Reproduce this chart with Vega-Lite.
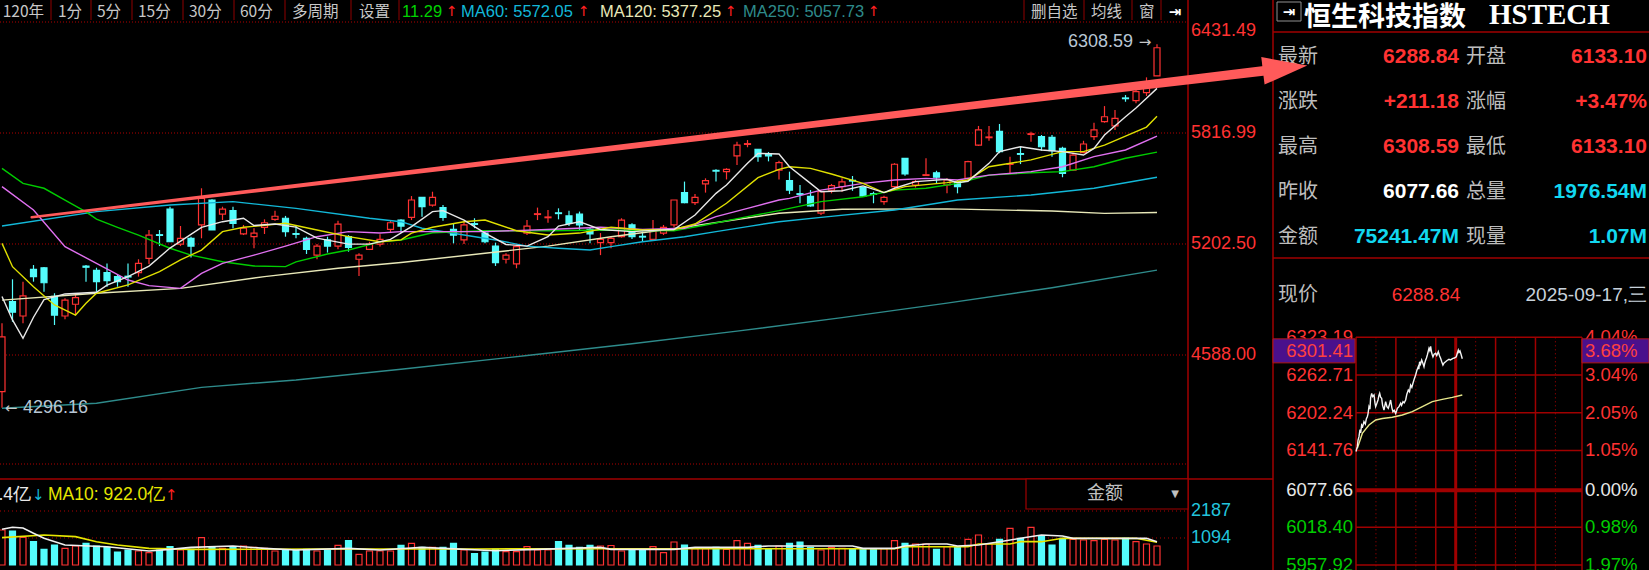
{
"$schema": "https://vega.github.io/schema/vega-lite/v6.json",
"width": 1649, "height": 570, "padding": 0, "autosize": {"type": "none"},
"background": "#000000",
"config": {"view": {"stroke": null}, "axis": {"disable": true}, "legend": {"disable": true}},
"datasets": {
"k": [
{"i":0,"o":4385,"h":4764,"l":4296.16,"c":4688,"v":1418},
{"i":1,"o":4883,"h":5007,"l":4772,"c":4825,"v":1377},
{"i":2,"o":4804,"h":4994,"l":4764,"c":4915,"v":1122},
{"i":3,"o":5062,"h":5086,"l":4994,"c":5022,"v":944},
{"i":4,"o":5071,"h":5075,"l":4938,"c":4988,"v":636},
{"i":5,"o":4913,"h":4930,"l":4754,"c":4809,"v":810},
{"i":6,"o":4804,"h":4902,"l":4786,"c":4892,"v":676},
{"i":7,"o":4869,"h":4926,"l":4809,"c":4906,"v":770},
{"i":8,"o":5080,"h":5086,"l":4994,"c":5074,"v":878},
{"i":9,"o":5056,"h":5071,"l":4938,"c":4994,"v":770},
{"i":10,"o":5044,"h":5095,"l":4966,"c":5000,"v":716},
{"i":11,"o":5022,"h":5031,"l":4966,"c":4994,"v":527},
{"i":12,"o":5024,"h":5095,"l":4966,"c":5020,"v":608},
{"i":13,"o":5044,"h":5118,"l":5022,"c":5095,"v":567},
{"i":14,"o":5123,"h":5280,"l":5092,"c":5252,"v":499},
{"i":15,"o":5254,"h":5280,"l":5191,"c":5250,"v":608},
{"i":16,"o":5396,"h":5409,"l":5215,"c":5215,"v":743},
{"i":17,"o":5202,"h":5302,"l":5191,"c":5234,"v":608},
{"i":18,"o":5234,"h":5243,"l":5128,"c":5191,"v":634},
{"i":19,"o":5308,"h":5511,"l":5234,"c":5455,"v":1107},
{"i":20,"o":5446,"h":5450,"l":5280,"c":5280,"v":716},
{"i":21,"o":5368,"h":5409,"l":5335,"c":5396,"v":676},
{"i":22,"o":5387,"h":5409,"l":5290,"c":5317,"v":716},
{"i":23,"o":5258,"h":5308,"l":5252,"c":5290,"v":770},
{"i":24,"o":5243,"h":5290,"l":5179,"c":5263,"v":716},
{"i":25,"o":5295,"h":5339,"l":5258,"c":5320,"v":676},
{"i":26,"o":5339,"h":5387,"l":5331,"c":5356,"v":567},
{"i":27,"o":5345,"h":5358,"l":5243,"c":5271,"v":608},
{"i":28,"o":5260,"h":5308,"l":5234,"c":5256,"v":608},
{"i":29,"o":5234,"h":5243,"l":5147,"c":5173,"v":634},
{"i":30,"o":5141,"h":5202,"l":5118,"c":5191,"v":567},
{"i":31,"o":5225,"h":5243,"l":5155,"c":5191,"v":608},
{"i":32,"o":5191,"h":5331,"l":5173,"c":5313,"v":797},
{"i":33,"o":5243,"h":5252,"l":5160,"c":5184,"v":985},
{"i":34,"o":5118,"h":5151,"l":5026,"c":5141,"v":432},
{"i":35,"o":5173,"h":5215,"l":5169,"c":5202,"v":567},
{"i":36,"o":5202,"h":5256,"l":5188,"c":5228,"v":567},
{"i":37,"o":5283,"h":5335,"l":5263,"c":5320,"v":567},
{"i":38,"o":5335,"h":5340,"l":5265,"c":5302,"v":797},
{"i":39,"o":5350,"h":5468,"l":5335,"c":5446,"v":878},
{"i":40,"o":5461,"h":5461,"l":5354,"c":5409,"v":716},
{"i":41,"o":5418,"h":5492,"l":5409,"c":5461,"v":716},
{"i":42,"o":5404,"h":5418,"l":5331,"c":5350,"v":716},
{"i":43,"o":5283,"h":5317,"l":5206,"c":5252,"v":878},
{"i":44,"o":5225,"h":5326,"l":5202,"c":5308,"v":608},
{"i":45,"o":5315,"h":5345,"l":5290,"c":5311,"v":459},
{"i":46,"o":5263,"h":5271,"l":5206,"c":5215,"v":527},
{"i":47,"o":5191,"h":5210,"l":5081,"c":5099,"v":634},
{"i":48,"o":5118,"h":5151,"l":5095,"c":5141,"v":540},
{"i":49,"o":5092,"h":5197,"l":5068,"c":5188,"v":540},
{"i":50,"o":5262,"h":5335,"l":5252,"c":5302,"v":743},
{"i":51,"o":5366,"h":5404,"l":5335,"c":5370,"v":608},
{"i":52,"o":5348,"h":5391,"l":5320,"c":5352,"v":608},
{"i":53,"o":5375,"h":5400,"l":5339,"c":5371,"v":944},
{"i":54,"o":5358,"h":5387,"l":5302,"c":5317,"v":797},
{"i":55,"o":5368,"h":5382,"l":5280,"c":5308,"v":716},
{"i":56,"o":5283,"h":5295,"l":5206,"c":5258,"v":797},
{"i":57,"o":5210,"h":5263,"l":5141,"c":5228,"v":770},
{"i":58,"o":5210,"h":5243,"l":5179,"c":5234,"v":790},
{"i":59,"o":5243,"h":5345,"l":5238,"c":5335,"v":567},
{"i":60,"o":5308,"h":5317,"l":5230,"c":5243,"v":661},
{"i":61,"o":5245,"h":5271,"l":5215,"c":5241,"v":608},
{"i":62,"o":5228,"h":5335,"l":5225,"c":5276,"v":743},
{"i":63,"o":5263,"h":5308,"l":5252,"c":5295,"v":499},
{"i":64,"o":5308,"h":5446,"l":5295,"c":5446,"v":931},
{"i":65,"o":5487,"h":5548,"l":5428,"c":5431,"v":810},
{"i":66,"o":5431,"h":5479,"l":5418,"c":5461,"v":661},
{"i":67,"o":5535,"h":5566,"l":5487,"c":5553,"v":661},
{"i":68,"o":5610,"h":5616,"l":5548,"c":5606,"v":716},
{"i":69,"o":5603,"h":5622,"l":5560,"c":5616,"v":634},
{"i":70,"o":5690,"h":5769,"l":5640,"c":5750,"v":985},
{"i":71,"o":5754,"h":5778,"l":5738,"c":5758,"v":878},
{"i":72,"o":5727,"h":5727,"l":5658,"c":5686,"v":797},
{"i":73,"o":5700,"h":5712,"l":5660,"c":5690,"v":634},
{"i":74,"o":5612,"h":5664,"l":5560,"c":5653,"v":770},
{"i":75,"o":5553,"h":5603,"l":5479,"c":5501,"v":878},
{"i":76,"o":5481,"h":5529,"l":5428,"c":5477,"v":931},
{"i":77,"o":5466,"h":5501,"l":5409,"c":5414,"v":716},
{"i":78,"o":5373,"h":5501,"l":5363,"c":5492,"v":608},
{"i":79,"o":5501,"h":5535,"l":5483,"c":5526,"v":716},
{"i":80,"o":5520,"h":5566,"l":5492,"c":5546,"v":676},
{"i":81,"o":5555,"h":5579,"l":5497,"c":5551,"v":661},
{"i":82,"o":5516,"h":5520,"l":5466,"c":5468,"v":661},
{"i":83,"o":5481,"h":5492,"l":5428,"c":5477,"v":634},
{"i":84,"o":5437,"h":5469,"l":5420,"c":5461,"v":661},
{"i":85,"o":5520,"h":5650,"l":5510,"c":5644,"v":985},
{"i":86,"o":5677,"h":5677,"l":5580,"c":5590,"v":878},
{"i":87,"o":5529,"h":5557,"l":5515,"c":5548,"v":851},
{"i":88,"o":5582,"h":5677,"l":5579,"c":5586,"v":851},
{"i":89,"o":5597,"h":5608,"l":5538,"c":5572,"v":634},
{"i":90,"o":5529,"h":5566,"l":5483,"c":5557,"v":743},
{"i":91,"o":5548,"h":5557,"l":5483,"c":5520,"v":716},
{"i":92,"o":5566,"h":5664,"l":5553,"c":5658,"v":1039},
{"i":93,"o":5750,"h":5856,"l":5745,"c":5834,"v":1215},
{"i":94,"o":5791,"h":5856,"l":5774,"c":5795,"v":851},
{"i":95,"o":5826,"h":5867,"l":5705,"c":5714,"v":1039},
{"i":96,"o":5643,"h":5686,"l":5590,"c":5647,"v":1485},
{"i":97,"o":5703,"h":5741,"l":5645,"c":5699,"v":1080},
{"i":98,"o":5809,"h":5824,"l":5769,"c":5813,"v":1525},
{"i":99,"o":5797,"h":5806,"l":5719,"c":5741,"v":1174},
{"i":100,"o":5793,"h":5806,"l":5686,"c":5719,"v":810},
{"i":101,"o":5732,"h":5741,"l":5572,"c":5594,"v":1080},
{"i":102,"o":5612,"h":5708,"l":5608,"c":5695,"v":1039},
{"i":103,"o":5708,"h":5774,"l":5705,"c":5756,"v":1012},
{"i":104,"o":5797,"h":5874,"l":5778,"c":5834,"v":985},
{"i":105,"o":5880,"h":5966,"l":5874,"c":5907,"v":1039},
{"i":106,"o":5856,"h":5944,"l":5834,"c":5898,"v":1012},
{"i":107,"o":6011,"h":6027,"l":5990,"c":6007,"v":1080},
{"i":108,"o":5996,"h":6073,"l":5981,"c":6046,"v":944},
{"i":109,"o":6040,"h":6125,"l":6022,"c":6077.66,"v":851},
{"i":110,"o":6133.1,"h":6308.59,"l":6133.1,"c":6288.84,"v":770}
],
"ma": [
{"s":"MA250","i":0,"v":4293},{"s":"MA250","i":9,"v":4321},{"s":"MA250","i":19,"v":4409},{"s":"MA250","i":28,"v":4450},{"s":"MA250","i":38,"v":4509},{"s":"MA250","i":50,"v":4585},{"s":"MA250","i":60,"v":4650},{"s":"MA250","i":70,"v":4720},{"s":"MA250","i":80,"v":4795},{"s":"MA250","i":90,"v":4875},{"s":"MA250","i":100,"v":4960},{"s":"MA250","i":110,"v":5057.73},
{"s":"MA120","i":0,"v":4892},{"s":"MA120","i":9,"v":4930},{"s":"MA120","i":17,"v":4957},{"s":"MA120","i":25,"v":5022},{"s":"MA120","i":32,"v":5068},{"s":"MA120","i":38,"v":5100},{"s":"MA120","i":46,"v":5151},{"s":"MA120","i":52,"v":5191},{"s":"MA120","i":58,"v":5243},{"s":"MA120","i":65,"v":5295},{"s":"MA120","i":74,"v":5373},{"s":"MA120","i":80,"v":5395},{"s":"MA120","i":90,"v":5397},{"s":"MA120","i":100,"v":5385},{"s":"MA120","i":105,"v":5372},{"s":"MA120","i":110,"v":5377.25},
{"s":"MA60","i":0,"v":5302},{"s":"MA60","i":9,"v":5382},{"s":"MA60","i":16,"v":5418},{"s":"MA60","i":22,"v":5437},{"s":"MA60","i":28,"v":5400},{"s":"MA60","i":35,"v":5345},{"s":"MA60","i":38,"v":5326},{"s":"MA60","i":40,"v":5290},{"s":"MA60","i":44,"v":5252},{"s":"MA60","i":47,"v":5225},{"s":"MA60","i":50,"v":5191},{"s":"MA60","i":53,"v":5179},{"s":"MA60","i":56,"v":5169},{"s":"MA60","i":58,"v":5188},{"s":"MA60","i":61,"v":5215},{"s":"MA60","i":65,"v":5243},{"s":"MA60","i":68,"v":5271},{"s":"MA60","i":71,"v":5299},{"s":"MA60","i":74,"v":5326},{"s":"MA60","i":78,"v":5350},{"s":"MA60","i":85,"v":5391},{"s":"MA60","i":91,"v":5446},{"s":"MA60","i":98,"v":5474},{"s":"MA60","i":104,"v":5511},{"s":"MA60","i":110,"v":5572.05},
{"s":"MA30","i":0,"v":5621},{"s":"MA30","i":2,"v":5538},{"s":"MA30","i":4,"v":5511},{"s":"MA30","i":6,"v":5446},{"s":"MA30","i":8,"v":5380},{"s":"MA30","i":9,"v":5340},{"s":"MA30","i":11,"v":5295},{"s":"MA30","i":13,"v":5252},{"s":"MA30","i":16,"v":5179},{"s":"MA30","i":18,"v":5141},{"s":"MA30","i":21,"v":5104},{"s":"MA30","i":24,"v":5081},{"s":"MA30","i":27,"v":5077},{"s":"MA30","i":28,"v":5104},{"s":"MA30","i":31,"v":5147},{"s":"MA30","i":33,"v":5169},{"s":"MA30","i":36,"v":5215},{"s":"MA30","i":38,"v":5225},{"s":"MA30","i":41,"v":5265},{"s":"MA30","i":46,"v":5276},{"s":"MA30","i":52,"v":5276},{"s":"MA30","i":58,"v":5280},{"s":"MA30","i":64,"v":5276},{"s":"MA30","i":67,"v":5308},{"s":"MA30","i":71,"v":5354},{"s":"MA30","i":74,"v":5387},{"s":"MA30","i":75,"v":5400},{"s":"MA30","i":78,"v":5437},{"s":"MA30","i":82,"v":5464},{"s":"MA30","i":85,"v":5501},{"s":"MA30","i":88,"v":5511},{"s":"MA30","i":91,"v":5538},{"s":"MA30","i":94,"v":5584},{"s":"MA30","i":98,"v":5597},{"s":"MA30","i":101,"v":5603},{"s":"MA30","i":104,"v":5630},{"s":"MA30","i":107,"v":5677},{"s":"MA30","i":110,"v":5711.29},
{"s":"MA20","i":0,"v":5520},{"s":"MA20","i":3,"v":5391},{"s":"MA20","i":6,"v":5188},{"s":"MA20","i":9,"v":5095},{"s":"MA20","i":12,"v":5003},{"s":"MA20","i":14,"v":4972},{"s":"MA20","i":17,"v":4957},{"s":"MA20","i":19,"v":5040},{"s":"MA20","i":21,"v":5095},{"s":"MA20","i":24,"v":5141},{"s":"MA20","i":27,"v":5191},{"s":"MA20","i":30,"v":5243},{"s":"MA20","i":33,"v":5271},{"s":"MA20","i":36,"v":5263},{"s":"MA20","i":38,"v":5271},{"s":"MA20","i":46,"v":5271},{"s":"MA20","i":52,"v":5283},{"s":"MA20","i":57,"v":5295},{"s":"MA20","i":61,"v":5283},{"s":"MA20","i":65,"v":5290},{"s":"MA20","i":68,"v":5354},{"s":"MA20","i":71,"v":5400},{"s":"MA20","i":74,"v":5446},{"s":"MA20","i":75,"v":5455},{"s":"MA20","i":78,"v":5501},{"s":"MA20","i":82,"v":5538},{"s":"MA20","i":85,"v":5557},{"s":"MA20","i":88,"v":5566},{"s":"MA20","i":91,"v":5557},{"s":"MA20","i":94,"v":5584},{"s":"MA20","i":98,"v":5603},{"s":"MA20","i":101,"v":5630},{"s":"MA20","i":104,"v":5686},{"s":"MA20","i":107,"v":5723},{"s":"MA20","i":110,"v":5800},
{"s":"MA10","i":0,"v":5206},{"s":"MA10","i":1,"v":5077},{"s":"MA10","i":3,"v":4966},{"s":"MA10","i":5,"v":4865},{"s":"MA10","i":7,"v":4809},{"s":"MA10","i":8,"v":4874},{"s":"MA10","i":9,"v":4930},{"s":"MA10","i":12,"v":4976},{"s":"MA10","i":15,"v":5049},{"s":"MA10","i":17,"v":5114},{"s":"MA10","i":19,"v":5169},{"s":"MA10","i":21,"v":5271},{"s":"MA10","i":23,"v":5295},{"s":"MA10","i":27,"v":5317},{"s":"MA10","i":30,"v":5280},{"s":"MA10","i":33,"v":5243},{"s":"MA10","i":36,"v":5215},{"s":"MA10","i":38,"v":5225},{"s":"MA10","i":39,"v":5263},{"s":"MA10","i":41,"v":5295},{"s":"MA10","i":44,"v":5326},{"s":"MA10","i":46,"v":5335},{"s":"MA10","i":49,"v":5276},{"s":"MA10","i":52,"v":5252},{"s":"MA10","i":55,"v":5263},{"s":"MA10","i":58,"v":5295},{"s":"MA10","i":61,"v":5280},{"s":"MA10","i":64,"v":5283},{"s":"MA10","i":66,"v":5313},{"s":"MA10","i":69,"v":5428},{"s":"MA10","i":72,"v":5570},{"s":"MA10","i":74,"v":5616},{"s":"MA10","i":75,"v":5630},{"s":"MA10","i":77,"v":5621},{"s":"MA10","i":79,"v":5590},{"s":"MA10","i":82,"v":5538},{"s":"MA10","i":84,"v":5487},{"s":"MA10","i":86,"v":5520},{"s":"MA10","i":90,"v":5542},{"s":"MA10","i":92,"v":5557},{"s":"MA10","i":94,"v":5630},{"s":"MA10","i":98,"v":5668},{"s":"MA10","i":101,"v":5714},{"s":"MA10","i":103,"v":5714},{"s":"MA10","i":105,"v":5750},{"s":"MA10","i":107,"v":5800},{"s":"MA10","i":109,"v":5850},{"s":"MA10","i":110,"v":5910},
{"s":"MA5","i":0,"v":4912},{"s":"MA5","i":1,"v":4782},{"s":"MA5","i":2,"v":4680},{"s":"MA5","i":3,"v":4797},{"s":"MA5","i":4,"v":4895},{"s":"MA5","i":6,"v":4926},{"s":"MA5","i":9,"v":4935},{"s":"MA5","i":10,"v":4975},{"s":"MA5","i":12,"v":5022},{"s":"MA5","i":14,"v":5080},{"s":"MA5","i":16,"v":5180},{"s":"MA5","i":19,"v":5295},{"s":"MA5","i":21,"v":5326},{"s":"MA5","i":23,"v":5345},{"s":"MA5","i":24,"v":5305},{"s":"MA5","i":26,"v":5313},{"s":"MA5","i":28,"v":5296},{"s":"MA5","i":30,"v":5235},{"s":"MA5","i":33,"v":5202},{"s":"MA5","i":35,"v":5202},{"s":"MA5","i":37,"v":5228},{"s":"MA5","i":39,"v":5299},{"s":"MA5","i":41,"v":5382},{"s":"MA5","i":42,"v":5387},{"s":"MA5","i":44,"v":5335},{"s":"MA5","i":46,"v":5263},{"s":"MA5","i":48,"v":5200},{"s":"MA5","i":50,"v":5191},{"s":"MA5","i":52,"v":5243},{"s":"MA5","i":53,"v":5302},{"s":"MA5","i":55,"v":5326},{"s":"MA5","i":57,"v":5283},{"s":"MA5","i":60,"v":5271},{"s":"MA5","i":62,"v":5278},{"s":"MA5","i":64,"v":5283},{"s":"MA5","i":66,"v":5363},{"s":"MA5","i":68,"v":5483},{"s":"MA5","i":69,"v":5529},{"s":"MA5","i":71,"v":5649},{"s":"MA5","i":72,"v":5704},{"s":"MA5","i":74,"v":5701},{"s":"MA5","i":75,"v":5630},{"s":"MA5","i":77,"v":5538},{"s":"MA5","i":78,"v":5492},{"s":"MA5","i":80,"v":5497},{"s":"MA5","i":82,"v":5524},{"s":"MA5","i":84,"v":5487},{"s":"MA5","i":85,"v":5511},{"s":"MA5","i":87,"v":5548},{"s":"MA5","i":90,"v":5560},{"s":"MA5","i":91,"v":5542},{"s":"MA5","i":92,"v":5550},{"s":"MA5","i":94,"v":5649},{"s":"MA5","i":95,"v":5714},{"s":"MA5","i":97,"v":5741},{"s":"MA5","i":99,"v":5723},{"s":"MA5","i":101,"v":5714},{"s":"MA5","i":103,"v":5695},{"s":"MA5","i":104,"v":5732},{"s":"MA5","i":105,"v":5806},{"s":"MA5","i":107,"v":5907},{"s":"MA5","i":108,"v":5955},{"s":"MA5","i":109,"v":6010},{"s":"MA5","i":110,"v":6064}
],
"vma": [
{"s":"MA10","i":0,"v":1107},{"s":"MA10","i":4,"v":1215},{"s":"MA10","i":7,"v":1148},{"s":"MA10","i":9,"v":945},{"s":"MA10","i":11,"v":810},{"s":"MA10","i":14,"v":675},{"s":"MA10","i":18,"v":634},{"s":"MA10","i":30,"v":645},{"s":"MA10","i":45,"v":650},{"s":"MA10","i":57,"v":661},{"s":"MA10","i":85,"v":661},{"s":"MA10","i":86,"v":742},{"s":"MA10","i":92,"v":742},{"s":"MA10","i":93,"v":850},{"s":"MA10","i":96,"v":850},{"s":"MA10","i":97,"v":945},{"s":"MA10","i":99,"v":945},{"s":"MA10","i":101,"v":1080},{"s":"MA10","i":108,"v":1080},{"s":"MA10","i":109,"v":1000},{"s":"MA10","i":110,"v":922},
{"s":"MA5","i":0,"v":1445},{"s":"MA5","i":1,"v":1526},{"s":"MA5","i":2,"v":1500},{"s":"MA5","i":3,"v":1283},{"s":"MA5","i":4,"v":1080},{"s":"MA5","i":6,"v":810},{"s":"MA5","i":10,"v":742},{"s":"MA5","i":14,"v":567},{"s":"MA5","i":16,"v":634},{"s":"MA5","i":18,"v":715},{"s":"MA5","i":22,"v":770},{"s":"MA5","i":25,"v":675},{"s":"MA5","i":28,"v":608},{"s":"MA5","i":33,"v":675},{"s":"MA5","i":36,"v":608},{"s":"MA5","i":40,"v":715},{"s":"MA5","i":47,"v":580},{"s":"MA5","i":51,"v":634},{"s":"MA5","i":57,"v":715},{"s":"MA5","i":58,"v":634},{"s":"MA5","i":64,"v":634},{"s":"MA5","i":66,"v":715},{"s":"MA5","i":71,"v":715},{"s":"MA5","i":73,"v":770},{"s":"MA5","i":81,"v":770},{"s":"MA5","i":82,"v":675},{"s":"MA5","i":85,"v":675},{"s":"MA5","i":86,"v":770},{"s":"MA5","i":88,"v":850},{"s":"MA5","i":90,"v":850},{"s":"MA5","i":91,"v":770},{"s":"MA5","i":93,"v":810},{"s":"MA5","i":95,"v":945},{"s":"MA5","i":97,"v":1080},{"s":"MA5","i":99,"v":1215},{"s":"MA5","i":101,"v":1174},{"s":"MA5","i":102,"v":1080},{"s":"MA5","i":109,"v":1080},{"s":"MA5","i":110,"v":945}
],
"tick": [
{"s":"avg","m":2,"p":6145},{"s":"avg","m":9.5,"p":6169},{"s":"avg","m":19.5,"p":6182.5},{"s":"avg","m":29.6,"p":6190.5},{"s":"avg","m":39.6,"p":6193},{"s":"avg","m":54.6,"p":6195},{"s":"avg","m":69.7,"p":6198.5},{"s":"avg","m":84.7,"p":6203.8},{"s":"avg","m":99.8,"p":6211.9},{"s":"avg","m":114.8,"p":6219.9},{"s":"avg","m":129.8,"p":6223.6},{"s":"avg","m":144.9,"p":6226.9},{"s":"avg","m":159.9,"p":6230.6},
{"s":"px","m":0,"p":6140},{"s":"px","m":2,"p":6147.7},{"s":"px","m":3,"p":6158},{"s":"px","m":4.5,"p":6163.8},{"s":"px","m":6,"p":6175},{"s":"px","m":7,"p":6170},{"s":"px","m":8.5,"p":6182.5},{"s":"px","m":10,"p":6180},{"s":"px","m":12,"p":6187.8},{"s":"px","m":14,"p":6184},{"s":"px","m":15.5,"p":6192},{"s":"px","m":17,"p":6195.8},{"s":"px","m":18,"p":6200},{"s":"px","m":19.5,"p":6211.9},{"s":"px","m":21,"p":6208},{"s":"px","m":22,"p":6226},{"s":"px","m":23.6,"p":6233.3},{"s":"px","m":25,"p":6228},{"s":"px","m":27.1,"p":6230.6},{"s":"px","m":28.5,"p":6218},{"s":"px","m":29.6,"p":6211.9},{"s":"px","m":31,"p":6216},{"s":"px","m":33.1,"p":6222.6},{"s":"px","m":34.5,"p":6230},{"s":"px","m":35.6,"p":6233.3},{"s":"px","m":37,"p":6227},{"s":"px","m":38.6,"p":6225.3},{"s":"px","m":40,"p":6214},{"s":"px","m":42.1,"p":6206.5},{"s":"px","m":43.5,"p":6214},{"s":"px","m":44.6,"p":6219.9},{"s":"px","m":46.5,"p":6212},{"s":"px","m":48.6,"p":6209.3},{"s":"px","m":50.5,"p":6216},{"s":"px","m":52.1,"p":6222.6},{"s":"px","m":54,"p":6210},{"s":"px","m":55.6,"p":6203.8},{"s":"px","m":57.5,"p":6206},{"s":"px","m":59.7,"p":6201.2},{"s":"px","m":61,"p":6205},{"s":"px","m":62.2,"p":6209.3},{"s":"px","m":64.7,"p":6211.9},{"s":"px","m":67.2,"p":6217.3},{"s":"px","m":68.5,"p":6214},{"s":"px","m":70.7,"p":6219.9},{"s":"px","m":72.5,"p":6218},{"s":"px","m":74.7,"p":6222.6},{"s":"px","m":76.5,"p":6232},{"s":"px","m":78.7,"p":6238.6},{"s":"px","m":80.5,"p":6236},{"s":"px","m":82.2,"p":6246.6},{"s":"px","m":84,"p":6243},{"s":"px","m":85.7,"p":6249.4},{"s":"px","m":87.5,"p":6256},{"s":"px","m":89.7,"p":6262.7},{"s":"px","m":91.5,"p":6270},{"s":"px","m":93.7,"p":6276},{"s":"px","m":94.5,"p":6272},{"s":"px","m":95.7,"p":6284},{"s":"px","m":97,"p":6280},{"s":"px","m":98.8,"p":6286.7},{"s":"px","m":100.5,"p":6282},{"s":"px","m":102.3,"p":6276},{"s":"px","m":103.5,"p":6282},{"s":"px","m":104.8,"p":6286.7},{"s":"px","m":106,"p":6290},{"s":"px","m":107.3,"p":6294.8},{"s":"px","m":108.5,"p":6300},{"s":"px","m":109.8,"p":6305.5},{"s":"px","m":111,"p":6302},{"s":"px","m":112.3,"p":6308.59},{"s":"px","m":113.5,"p":6300},{"s":"px","m":114.5,"p":6296},{"s":"px","m":115.8,"p":6292},{"s":"px","m":117.5,"p":6296},{"s":"px","m":119.8,"p":6297.5},{"s":"px","m":121.5,"p":6294},{"s":"px","m":123.8,"p":6300.1},{"s":"px","m":125.5,"p":6294},{"s":"px","m":127.3,"p":6289.5},{"s":"px","m":129,"p":6284},{"s":"px","m":130.8,"p":6278.7},{"s":"px","m":132.5,"p":6282},{"s":"px","m":134.8,"p":6284},{"s":"px","m":137,"p":6286},{"s":"px","m":139.9,"p":6287.9},{"s":"px","m":142,"p":6287},{"s":"px","m":145.9,"p":6289.5},{"s":"px","m":148,"p":6290},{"s":"px","m":150.9,"p":6292},{"s":"px","m":152.5,"p":6298},{"s":"px","m":153.9,"p":6302.8},{"s":"px","m":155,"p":6299},{"s":"px","m":156.4,"p":6301.4},{"s":"px","m":158,"p":6296},{"s":"px","m":159.9,"p":6288.84}
],
"grid": [
{"p":6323.19,"pct":"4.04%","t":"up"},{"p":6262.71,"pct":"3.04%","t":"up"},{"p":6202.24,"pct":"2.05%","t":"up"},{"p":6141.76,"pct":"1.05%","t":"up"},{"p":6077.66,"pct":"0.00%","t":"flat"},{"p":6018.40,"pct":"0.98%","t":"down"},{"p":5957.92,"pct":"1.97%","t":"down"}
],
"info": [
{"r":1,"c":1,"lab":"最新","val":"6288.84","tone":"up"},
{"r":1,"c":2,"lab":"开盘","val":"6133.10","tone":"up"},
{"r":2,"c":1,"lab":"涨跌","val":"+211.18","tone":"up"},
{"r":2,"c":2,"lab":"涨幅","val":"+3.47%","tone":"up"},
{"r":3,"c":1,"lab":"最高","val":"6308.59","tone":"up"},
{"r":3,"c":2,"lab":"最低","val":"6133.10","tone":"up"},
{"r":4,"c":1,"lab":"昨收","val":"6077.66","tone":"flat"},
{"r":4,"c":2,"lab":"总量","val":"1976.54M","tone":"amt"},
{"r":5,"c":1,"lab":"金额","val":"75241.47M","tone":"amt"},
{"r":5,"c":2,"lab":"现量","val":"1.07M","tone":"amt"}
]
},
"layer": [
{"data":{"values":[{}]},"mark":{"type":"rule","color":"#a00000","strokeWidth":1.5},"encoding":{"x":{"value":1188},"y":{"value":0},"y2":{"value":570}}},
{"data":{"values":[{}]},"mark":{"type":"rule","color":"#a00000","strokeWidth":1.5},"encoding":{"x":{"value":1273},"y":{"value":0},"y2":{"value":570}}},
{"data":{"values":[{}]},"mark":{"type":"rule","color":"#a00000","strokeWidth":1.5},"encoding":{"y":{"value":479},"x":{"value":0},"x2":{"value":1273}}},
{"data":{"values":[{}]},"mark":{"type":"rule","color":"#a00000","strokeWidth":1.5},"encoding":{"y":{"value":32},"x":{"value":1273},"x2":{"value":1649}}},
{"data":{"values":[{}]},"mark":{"type":"rule","color":"#a00000","strokeWidth":1.5},"encoding":{"y":{"value":258},"x":{"value":1273},"x2":{"value":1649}}},
{"data":{"values":[{}]},"mark":{"type":"rule","color":"#b00000","strokeWidth":1,"strokeDash":[1,2]},"encoding":{"y":{"value":464},"x":{"value":0},"x2":{"value":1188}}},
{"data":{"values":[{}]},"mark":{"type":"rule","color":"#900000","strokeWidth":1},"encoding":{"x":{"value":51},"y":{"value":0},"y2":{"value":20}}},
{"data":{"values":[{}]},"mark":{"type":"rule","color":"#900000","strokeWidth":1},"encoding":{"x":{"value":91},"y":{"value":0},"y2":{"value":20}}},
{"data":{"values":[{}]},"mark":{"type":"rule","color":"#900000","strokeWidth":1},"encoding":{"x":{"value":132},"y":{"value":0},"y2":{"value":20}}},
{"data":{"values":[{}]},"mark":{"type":"rule","color":"#900000","strokeWidth":1},"encoding":{"x":{"value":183},"y":{"value":0},"y2":{"value":20}}},
{"data":{"values":[{}]},"mark":{"type":"rule","color":"#900000","strokeWidth":1},"encoding":{"x":{"value":234},"y":{"value":0},"y2":{"value":20}}},
{"data":{"values":[{}]},"mark":{"type":"rule","color":"#900000","strokeWidth":1},"encoding":{"x":{"value":285},"y":{"value":0},"y2":{"value":20}}},
{"data":{"values":[{}]},"mark":{"type":"rule","color":"#900000","strokeWidth":1},"encoding":{"x":{"value":351},"y":{"value":0},"y2":{"value":20}}},
{"data":{"values":[{}]},"mark":{"type":"rule","color":"#900000","strokeWidth":1},"encoding":{"x":{"value":399},"y":{"value":0},"y2":{"value":20}}},
{"data":{"values":[{}]},"mark":{"type":"rule","color":"#900000","strokeWidth":1},"encoding":{"x":{"value":1024},"y":{"value":0},"y2":{"value":20}}},
{"data":{"values":[{}]},"mark":{"type":"rule","color":"#900000","strokeWidth":1},"encoding":{"x":{"value":1084},"y":{"value":0},"y2":{"value":20}}},
{"data":{"values":[{}]},"mark":{"type":"rule","color":"#900000","strokeWidth":1},"encoding":{"x":{"value":1132},"y":{"value":0},"y2":{"value":20}}},
{"data":{"values":[{}]},"mark":{"type":"rule","color":"#900000","strokeWidth":1},"encoding":{"x":{"value":1161},"y":{"value":0},"y2":{"value":20}}},

{"data":{"values":[{"t":"120年"}]},"mark":{"type":"text","align":"right","baseline":"middle","font":"Noto Sans CJK SC","fontSize":15.5,"color":"#c8c8c8"},"encoding":{"x":{"value":44},"y":{"value":12},"text":{"field":"t"}}},
{"data":{"values":[{"t":"1分"}]},"mark":{"type":"text","align":"left","baseline":"middle","font":"Noto Sans CJK SC","fontSize":15.5,"color":"#c8c8c8"},"encoding":{"x":{"value":58},"y":{"value":12},"text":{"field":"t"}}},
{"data":{"values":[{"t":"5分"}]},"mark":{"type":"text","align":"left","baseline":"middle","font":"Noto Sans CJK SC","fontSize":15.5,"color":"#c8c8c8"},"encoding":{"x":{"value":97},"y":{"value":12},"text":{"field":"t"}}},
{"data":{"values":[{"t":"15分"}]},"mark":{"type":"text","align":"left","baseline":"middle","font":"Noto Sans CJK SC","fontSize":15.5,"color":"#c8c8c8"},"encoding":{"x":{"value":138},"y":{"value":12},"text":{"field":"t"}}},
{"data":{"values":[{"t":"30分"}]},"mark":{"type":"text","align":"left","baseline":"middle","font":"Noto Sans CJK SC","fontSize":15.5,"color":"#c8c8c8"},"encoding":{"x":{"value":189},"y":{"value":12},"text":{"field":"t"}}},
{"data":{"values":[{"t":"60分"}]},"mark":{"type":"text","align":"left","baseline":"middle","font":"Noto Sans CJK SC","fontSize":15.5,"color":"#c8c8c8"},"encoding":{"x":{"value":240},"y":{"value":12},"text":{"field":"t"}}},
{"data":{"values":[{"t":"多周期"}]},"mark":{"type":"text","align":"left","baseline":"middle","font":"Noto Sans CJK SC","fontSize":15.5,"color":"#c8c8c8"},"encoding":{"x":{"value":292},"y":{"value":12},"text":{"field":"t"}}},
{"data":{"values":[{"t":"设置"}]},"mark":{"type":"text","align":"left","baseline":"middle","font":"Noto Sans CJK SC","fontSize":15.5,"color":"#c8c8c8"},"encoding":{"x":{"value":359},"y":{"value":12},"text":{"field":"t"}}},
{"data":{"values":[{"t":"11.29"}]},"mark":{"type":"text","align":"left","baseline":"middle","font":"Liberation Sans","fontSize":16.5,"color":"#00d200"},"encoding":{"x":{"value":402},"y":{"value":12},"text":{"field":"t"}}},
{"data":{"values":[{"t":"↑"}]},"mark":{"type":"text","align":"left","baseline":"middle","font":"DejaVu Sans","fontSize":14,"color":"#ff2020"},"encoding":{"x":{"value":446},"y":{"value":12},"text":{"field":"t"}}},
{"data":{"values":[{"t":"MA60: 5572.05"}]},"mark":{"type":"text","align":"left","baseline":"middle","font":"Liberation Sans","fontSize":16.5,"color":"#12b8d8"},"encoding":{"x":{"value":461},"y":{"value":12},"text":{"field":"t"}}},
{"data":{"values":[{"t":"↑"}]},"mark":{"type":"text","align":"left","baseline":"middle","font":"DejaVu Sans","fontSize":14,"color":"#ff2020"},"encoding":{"x":{"value":578},"y":{"value":12},"text":{"field":"t"}}},
{"data":{"values":[{"t":"MA120: 5377.25"}]},"mark":{"type":"text","align":"left","baseline":"middle","font":"Liberation Sans","fontSize":16.5,"color":"#e8e8b8"},"encoding":{"x":{"value":600},"y":{"value":12},"text":{"field":"t"}}},
{"data":{"values":[{"t":"↑"}]},"mark":{"type":"text","align":"left","baseline":"middle","font":"DejaVu Sans","fontSize":14,"color":"#ff2020"},"encoding":{"x":{"value":725},"y":{"value":12},"text":{"field":"t"}}},
{"data":{"values":[{"t":"MA250: 5057.73"}]},"mark":{"type":"text","align":"left","baseline":"middle","font":"Liberation Sans","fontSize":16.5,"color":"#2e8b8b"},"encoding":{"x":{"value":743},"y":{"value":12},"text":{"field":"t"}}},
{"data":{"values":[{"t":"↑"}]},"mark":{"type":"text","align":"left","baseline":"middle","font":"DejaVu Sans","fontSize":14,"color":"#ff2020"},"encoding":{"x":{"value":868},"y":{"value":12},"text":{"field":"t"}}},
{"data":{"values":[{"t":"删自选"}]},"mark":{"type":"text","align":"left","baseline":"middle","font":"Noto Sans CJK SC","fontSize":15.5,"color":"#c8c8c8"},"encoding":{"x":{"value":1031},"y":{"value":12},"text":{"field":"t"}}},
{"data":{"values":[{"t":"均线"}]},"mark":{"type":"text","align":"left","baseline":"middle","font":"Noto Sans CJK SC","fontSize":15.5,"color":"#c8c8c8"},"encoding":{"x":{"value":1091},"y":{"value":12},"text":{"field":"t"}}},
{"data":{"values":[{"t":"窗"}]},"mark":{"type":"text","align":"left","baseline":"middle","font":"Noto Sans CJK SC","fontSize":15.5,"color":"#c8c8c8"},"encoding":{"x":{"value":1139},"y":{"value":12},"text":{"field":"t"}}},
{"data":{"values":[{"t":"⇥"}]},"mark":{"type":"text","align":"center","baseline":"middle","font":"DejaVu Sans","fontSize":15,"fontWeight":"bold","color":"#ffffff"},"encoding":{"x":{"value":1175},"y":{"value":12},"text":{"field":"t"}}},

{"data":{"values":[{}]},"mark":{"type":"rect","fill":"#000000","stroke":"#909090","strokeWidth":1},"encoding":{"x":{"value":1277},"x2":{"value":1301},"y":{"value":2},"y2":{"value":21}}},
{"data":{"values":[{"t":"⇥"}]},"mark":{"type":"text","align":"center","baseline":"middle","font":"DejaVu Sans","fontSize":15,"fontWeight":"bold","color":"#ffffff"},"encoding":{"x":{"value":1289},"y":{"value":12},"text":{"field":"t"}}},
{"data":{"values":[{"t":"恒生科技指数"}]},"mark":{"type":"text","align":"left","baseline":"alphabetic","font":"Noto Sans CJK SC","fontSize":27,"fontWeight":"bold","color":"#ffffff"},"encoding":{"x":{"value":1304},"y":{"value":26},"text":{"field":"t"}}},
{"data":{"values":[{"t":"HSTECH"}]},"mark":{"type":"text","align":"left","baseline":"alphabetic","font":"Liberation Serif","fontSize":29,"fontWeight":"bold","color":"#ffffff"},"encoding":{"x":{"value":1489},"y":{"value":24},"text":{"field":"t"}}},

{"layer":[
 {"data":{"name":"info"},"mark":{"type":"text","align":"left","baseline":"middle","font":"Noto Sans CJK SC","fontSize":20,"color":"#bdbdbd"},
  "encoding":{"x":{"field":"c","type":"quantitative","scale":{"domain":[1,2],"range":[1278,1466],"nice":false,"zero":false}},"y":{"field":"r","type":"quantitative","scale":{"domain":[1,5],"range":[57,237],"nice":false,"zero":false}},"text":{"field":"lab"}}},
 {"data":{"name":"info"},"mark":{"type":"text","align":"right","baseline":"middle","dx":181,"font":"Liberation Sans","fontSize":21,"fontWeight":"bold"},
  "encoding":{"x":{"field":"c","type":"quantitative","scale":{"domain":[1,2],"range":[1278,1466],"nice":false,"zero":false}},"y":{"field":"r","type":"quantitative","scale":{"domain":[1,5],"range":[57,237],"nice":false,"zero":false}},"text":{"field":"val"},
   "color":{"field":"tone","type":"nominal","scale":{"domain":["up","flat","amt"],"range":["#ff3232","#ffffff","#12d8f0"]},"legend":null}}}
]},

{"data":{"values":[{"a":"现价","b":"6288.84","d":"2025-09-17,三"}]},"mark":{"type":"text","align":"left","baseline":"middle","font":"Noto Sans CJK SC","fontSize":20,"color":"#bdbdbd"},"encoding":{"x":{"value":1278},"y":{"value":295},"text":{"field":"a"}}},
{"data":{"values":[{"a":"现价","b":"6288.84","d":"2025-09-17,三"}]},"mark":{"type":"text","align":"center","baseline":"middle","font":"Liberation Sans","fontSize":19,"color":"#ff3232"},"encoding":{"x":{"value":1426},"y":{"value":295},"text":{"field":"b"}}},
{"data":{"values":[{"a":"现价","b":"6288.84","d":"2025-09-17,三"}]},"mark":{"type":"text","align":"right","baseline":"middle","font":"Liberation Sans","fontSize":19,"color":"#c8d2dc"},"encoding":{"x":{"value":1647},"y":{"value":295},"text":{"field":"d"}}},

{"layer":[
 {"data":{"name":"grid"},"mark":{"type":"rule","color":"#a00000"},
  "encoding":{"y":{"field":"p","type":"quantitative","scale":{"domain":[5957.92,6262.71],"range":[565,375],"nice":false,"zero":false}},"x":{"datum":0,"type":"quantitative","scale":{"domain":[0,340],"range":[1356,1582],"nice":false,"zero":false}},"x2":{"datum":340},
   "strokeWidth":{"condition":{"test":"datum.t === 'flat'","value":4},"value":1.5}}},
 {"data":{"values":[{"m":0},{"m":60},{"m":120},{"m":210},{"m":270},{"m":340}]},"mark":{"type":"rule","color":"#a00000","strokeWidth":1.5},
  "encoding":{"x":{"field":"m","type":"quantitative","scale":{"domain":[0,340],"range":[1356,1582],"nice":false,"zero":false}},"y":{"datum":6323.19,"type":"quantitative","scale":{"domain":[5957.92,6262.71],"range":[565,375],"nice":false,"zero":false}},"y2":{"datum":5949}}},
 {"data":{"values":[{"m":150}]},"mark":{"type":"rule","color":"#a00000","strokeWidth":3},
  "encoding":{"x":{"field":"m","type":"quantitative","scale":{"domain":[0,340],"range":[1356,1582],"nice":false,"zero":false}},"y":{"datum":6323.19,"type":"quantitative","scale":{"domain":[5957.92,6262.71],"range":[565,375],"nice":false,"zero":false}},"y2":{"datum":5949}}},
 {"data":{"values":[{"m":30},{"m":90},{"m":180},{"m":240},{"m":300}]},"mark":{"type":"rule","color":"#b00000","strokeWidth":1,"strokeDash":[1,3]},
  "encoding":{"x":{"field":"m","type":"quantitative","scale":{"domain":[0,340],"range":[1356,1582],"nice":false,"zero":false}},"y":{"datum":6323.19,"type":"quantitative","scale":{"domain":[5957.92,6262.71],"range":[565,375],"nice":false,"zero":false}},"y2":{"datum":5949}}},
 {"data":{"name":"grid"},"mark":{"type":"text","align":"right","baseline":"middle","font":"Liberation Sans","fontSize":18.5},
  "encoding":{"y":{"field":"p","type":"quantitative","scale":{"domain":[5957.92,6262.71],"range":[565,375],"nice":false,"zero":false}},"x":{"value":1353},"text":{"field":"p","type":"quantitative","format":".2f"},
   "color":{"field":"t","type":"nominal","scale":{"domain":["up","flat","down"],"range":["#ff3232","#e8e8e8","#00cc00"]},"legend":null}}},
 {"data":{"name":"grid"},"mark":{"type":"text","align":"left","baseline":"middle","font":"Liberation Sans","fontSize":18.5},
  "encoding":{"y":{"field":"p","type":"quantitative","scale":{"domain":[5957.92,6262.71],"range":[565,375],"nice":false,"zero":false}},"x":{"value":1585},"text":{"field":"pct"},
   "color":{"field":"t","type":"nominal","scale":{"domain":["up","flat","down"],"range":["#ff3232","#e8e8e8","#00cc00"]},"legend":null}}},
 {"data":{"name":"tick"},"mark":{"type":"line","strokeWidth":1.4},
  "encoding":{"x":{"field":"m","type":"quantitative","scale":{"domain":[0,340],"range":[1356,1582],"nice":false,"zero":false}},"y":{"field":"p","type":"quantitative","scale":{"domain":[5957.92,6262.71],"range":[565,375],"nice":false,"zero":false}},
   "stroke":{"field":"s","type":"nominal","scale":{"domain":["avg","px"],"range":["#e6e68a","#f4f4f4"]},"legend":null},"order":{"field":"m","type":"quantitative"}}},
 {"data":{"values":[{"p":6301.41,"pct":"3.68%"}]},"mark":{"type":"rect","fill":"#4a108c","stroke":"#b01818","strokeWidth":1},
  "encoding":{"x":{"value":1273},"x2":{"value":1355},"y":{"datum":6320.7,"type":"quantitative","scale":{"domain":[5957.92,6262.71],"range":[565,375],"nice":false,"zero":false}},"y2":{"datum":6282.2}}},
 {"data":{"values":[{"p":6301.41,"pct":"3.68%"}]},"mark":{"type":"rect","fill":"#4a108c","stroke":"#b01818","strokeWidth":1},
  "encoding":{"x":{"value":1582},"x2":{"value":1649},"y":{"datum":6320.7,"type":"quantitative","scale":{"domain":[5957.92,6262.71],"range":[565,375],"nice":false,"zero":false}},"y2":{"datum":6282.2}}},
 {"data":{"values":[{"p":6301.41,"pct":"3.68%"}]},"mark":{"type":"text","align":"right","baseline":"middle","font":"Liberation Sans","fontSize":18.5,"color":"#ff4040"},
  "encoding":{"y":{"field":"p","type":"quantitative","scale":{"domain":[5957.92,6262.71],"range":[565,375],"nice":false,"zero":false}},"x":{"value":1353},"text":{"field":"p","type":"quantitative","format":".2f"}}},
 {"data":{"values":[{"p":6301.41,"pct":"3.68%"}]},"mark":{"type":"text","align":"left","baseline":"middle","font":"Liberation Sans","fontSize":18.5,"color":"#ff4040"},
  "encoding":{"y":{"field":"p","type":"quantitative","scale":{"domain":[5957.92,6262.71],"range":[565,375],"nice":false,"zero":false}},"x":{"value":1585},"text":{"field":"pct"}}}
],
"resolve": {"scale": {"color": "independent", "stroke": "independent"}}},

{"layer":[
 {"data":{"values":[{"q":1094},{"q":2187}]},"mark":{"type":"rule","color":"#b00000","strokeWidth":1,"strokeDash":[1,3]},
  "encoding":{"y":{"field":"q","type":"quantitative","scale":{"domain":[0,2187],"range":[565,511],"nice":false}},"x":{"value":0},"x2":{"value":1188}}},
 {"data":{"values":[{"q":1094},{"q":2187}]},"mark":{"type":"text","align":"left","baseline":"middle","font":"Liberation Sans","fontSize":18,"color":"#22c4dc"},
  "encoding":{"y":{"field":"q","type":"quantitative","scale":{"domain":[0,2187],"range":[565,511],"nice":false}},"x":{"value":1191},"text":{"field":"q","type":"quantitative","format":"d"}}},
 {"data":{"name":"k"},"mark":{"type":"bar","width":6,"strokeWidth":1.2},
  "encoding":{"x":{"field":"i","type":"quantitative","scale":{"domain":[0,110],"range":[2,1157],"nice":false,"zero":false,"padding":0}},"y":{"field":"v","type":"quantitative","scale":{"domain":[0,2187],"range":[565,511],"nice":false}},
   "fill":{"condition":{"test":"datum.c >= datum.o","value":"#000000"},"value":"#54fcfc"},
   "stroke":{"condition":{"test":"datum.c >= datum.o","value":"#ff3232"},"value":"#54fcfc"}}},
 {"data":{"name":"vma"},"mark":{"type":"line","strokeWidth":1.6},
  "encoding":{"x":{"field":"i","type":"quantitative","scale":{"domain":[0,110],"range":[2,1157],"nice":false,"zero":false,"padding":0}},"y":{"field":"v","type":"quantitative","scale":{"domain":[0,2187],"range":[565,511],"nice":false}},
   "color":{"field":"s","type":"nominal","scale":{"domain":["MA10","MA5"],"range":["#e6e600","#f0f0f0"]},"legend":null}}}
]},

{"data":{"values":[{"t":"MA5: 944.4亿"}]},"mark":{"type":"text","align":"right","baseline":"middle","font":"Liberation Sans","fontSize":17.5,"color":"#e8e8e8"},"encoding":{"x":{"value":31},"y":{"value":495},"text":{"field":"t"}}},
{"data":{"values":[{"t":"↓"}]},"mark":{"type":"text","align":"left","baseline":"middle","font":"DejaVu Sans","fontSize":15,"color":"#12b8d8"},"encoding":{"x":{"value":32},"y":{"value":495},"text":{"field":"t"}}},
{"data":{"values":[{"t":"MA10: 922.0亿"}]},"mark":{"type":"text","align":"left","baseline":"middle","font":"Liberation Sans","fontSize":17.5,"color":"#e6e600"},"encoding":{"x":{"value":48},"y":{"value":495},"text":{"field":"t"}}},
{"data":{"values":[{"t":"↑"}]},"mark":{"type":"text","align":"left","baseline":"middle","font":"DejaVu Sans","fontSize":15,"color":"#ff2020"},"encoding":{"x":{"value":165},"y":{"value":495},"text":{"field":"t"}}},
{"data":{"values":[{}]},"mark":{"type":"rect","fill":"#000000","stroke":"#a00000","strokeWidth":1.2},"encoding":{"x":{"value":1026},"x2":{"value":1188},"y":{"value":479},"y2":{"value":509}}},
{"data":{"values":[{"t":"金额"}]},"mark":{"type":"text","align":"center","baseline":"middle","font":"Noto Sans CJK SC","fontSize":18,"color":"#c0c0c0"},"encoding":{"x":{"value":1105},"y":{"value":494},"text":{"field":"t"}}},
{"data":{"values":[{"t":"▼"}]},"mark":{"type":"text","align":"center","baseline":"middle","font":"DejaVu Sans","fontSize":10,"color":"#c0c0c0"},"encoding":{"x":{"value":1175},"y":{"value":494},"text":{"field":"t"}}},

{"layer":[
 {"data":{"values":[{"p":4588},{"p":5202.5},{"p":5816.99},{"p":6431.49}]},"mark":{"type":"rule","color":"#b00000","strokeWidth":1,"strokeDash":[1,2]},
  "encoding":{"y":{"field":"p","type":"quantitative","scale":{"domain":[4588,6431.49],"range":[355,22],"nice":false,"zero":false}},"x":{"value":0},"x2":{"value":1188}}},
 {"data":{"values":[{"p":4588},{"p":5202.5},{"p":5816.99}]},"mark":{"type":"text","align":"left","baseline":"middle","font":"Liberation Sans","fontSize":18,"color":"#ff3232"},
  "encoding":{"y":{"field":"p","type":"quantitative","scale":{"domain":[4588,6431.49],"range":[355,22],"nice":false,"zero":false}},"x":{"value":1191},"text":{"field":"p","type":"quantitative","format":".2f"}}},
 {"data":{"values":[{"p":6431.49}]},"mark":{"type":"text","align":"left","baseline":"top","font":"Liberation Sans","fontSize":18,"color":"#ff3232"},
  "encoding":{"y":{"field":"p","type":"quantitative","scale":{"domain":[4588,6431.49],"range":[355,22],"nice":false,"zero":false}},"x":{"value":1191},"text":{"field":"p","type":"quantitative","format":".2f"}}},
 {"data":{"name":"k"},"mark":{"type":"rule","strokeWidth":1.2},
  "encoding":{"x":{"field":"i","type":"quantitative","scale":{"domain":[0,110],"range":[2,1157],"nice":false,"zero":false,"padding":0}},"y":{"field":"l","type":"quantitative","scale":{"domain":[4588,6431.49],"range":[355,22],"nice":false,"zero":false}},"y2":{"field":"h"},
   "color":{"condition":{"test":"datum.c >= datum.o","value":"#ff3232"},"value":"#54fcfc"}}},
 {"data":{"name":"k"},"mark":{"type":"bar","width":6,"strokeWidth":1.2},
  "encoding":{"x":{"field":"i","type":"quantitative","scale":{"domain":[0,110],"range":[2,1157],"nice":false,"zero":false,"padding":0}},"y":{"field":"o","type":"quantitative","scale":{"domain":[4588,6431.49],"range":[355,22],"nice":false,"zero":false}},"y2":{"field":"c"},
   "fill":{"condition":{"test":"datum.c >= datum.o","value":"#000000"},"value":"#54fcfc"},
   "stroke":{"condition":{"test":"datum.c >= datum.o","value":"#ff3232"},"value":"#54fcfc"}}},
 {"data":{"name":"ma"},"mark":{"type":"line","strokeWidth":1.4},
  "encoding":{"x":{"field":"i","type":"quantitative","scale":{"domain":[0,110],"range":[2,1157],"nice":false,"zero":false,"padding":0}},"y":{"field":"v","type":"quantitative","scale":{"domain":[4588,6431.49],"range":[355,22],"nice":false,"zero":false}},
   "color":{"field":"s","type":"nominal","scale":{"domain":["MA250","MA120","MA60","MA30","MA20","MA10","MA5"],"range":["#2e8b8b","#e8e8b8","#12b8d8","#00cc00","#e070f0","#e0e000","#e8e8e8"]},"legend":null}}},
 {"data":{"name":"k"},"transform":[{"filter":"datum.i == 110"}],"mark":{"type":"text","align":"right","baseline":"middle","dx":-24,"dy":-2,"font":"Liberation Sans","fontSize":18,"color":"#b8c6d4"},
  "encoding":{"x":{"field":"i","type":"quantitative","scale":{"domain":[0,110],"range":[2,1157],"nice":false,"zero":false,"padding":0}},"y":{"field":"h","type":"quantitative","scale":{"domain":[4588,6431.49],"range":[355,22],"nice":false,"zero":false}},"text":{"field":"h","type":"quantitative","format":".2f"}}},
 {"data":{"name":"k"},"transform":[{"filter":"datum.i == 110"}],"mark":{"type":"text","align":"center","baseline":"middle","dx":-12,"dy":-2,"font":"DejaVu Sans","fontSize":15,"color":"#c8c8c8"},
  "encoding":{"x":{"field":"i","type":"quantitative","scale":{"domain":[0,110],"range":[2,1157],"nice":false,"zero":false,"padding":0}},"y":{"field":"h","type":"quantitative","scale":{"domain":[4588,6431.49],"range":[355,22],"nice":false,"zero":false}},"text":{"value":"→"}}},
 {"data":{"name":"k"},"transform":[{"filter":"datum.i == 0"}],"mark":{"type":"text","align":"left","baseline":"middle","dx":21,"font":"Liberation Sans","fontSize":18,"color":"#b8c6d4"},
  "encoding":{"x":{"field":"i","type":"quantitative","scale":{"domain":[0,110],"range":[2,1157],"nice":false,"zero":false,"padding":0}},"y":{"field":"l","type":"quantitative","scale":{"domain":[4588,6431.49],"range":[355,22],"nice":false,"zero":false}},"text":{"field":"l","type":"quantitative","format":".2f"}}},
 {"data":{"name":"k"},"transform":[{"filter":"datum.i == 0"}],"mark":{"type":"text","align":"center","baseline":"middle","dx":9,"font":"DejaVu Sans","fontSize":15,"color":"#c8c8c8"},
  "encoding":{"x":{"field":"i","type":"quantitative","scale":{"domain":[0,110],"range":[2,1157],"nice":false,"zero":false,"padding":0}},"y":{"field":"l","type":"quantitative","scale":{"domain":[4588,6431.49],"range":[355,22],"nice":false,"zero":false}},"text":{"value":"←"}}},
 {"data":{"values":[{"i":2.83,"p":5350},{"i":121.6,"p":6171}]},"mark":{"type":"trail","color":"#ff5a5a"},
  "encoding":{"x":{"field":"i","type":"quantitative","scale":{"domain":[0,110],"range":[2,1157],"nice":false,"zero":false,"padding":0}},"y":{"field":"p","type":"quantitative","scale":{"domain":[4588,6431.49],"range":[355,22],"nice":false,"zero":false}},
   "size":{"field":"i","type":"quantitative","scale":{"domain":[2.83,121.6],"range":[2.5,9.5],"zero":false},"legend":null}}},
 {"data":{"values":[{"i":122.2,"p":6176}]},"mark":{"type":"point","shape":"M-1,-0.62L1,0L-1,0.62Z","filled":true,"color":"#ff5a5a","opacity":1,"size":2000,"angle":-6.8},
  "encoding":{"x":{"field":"i","type":"quantitative","scale":{"domain":[0,110],"range":[2,1157],"nice":false,"zero":false,"padding":0}},"y":{"field":"p","type":"quantitative","scale":{"domain":[4588,6431.49],"range":[355,22],"nice":false,"zero":false}}}}
]}
],
"resolve": {"scale": {"x": "independent", "y": "independent", "color": "independent", "stroke": "independent", "size": "independent", "strokeWidth": "independent"}}
}
